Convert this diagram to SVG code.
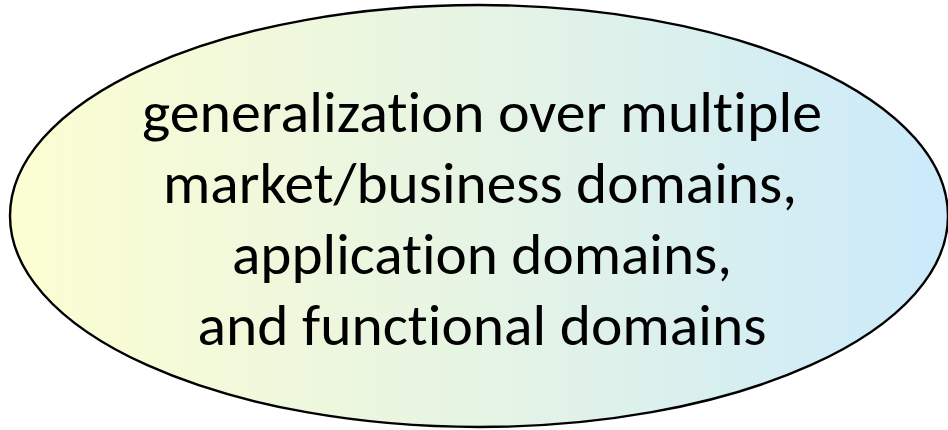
<svg xmlns="http://www.w3.org/2000/svg" width="948" height="430" viewBox="0 0 948 430">
  <defs>
    <linearGradient id="fill" x1="0" y1="0" x2="1" y2="0">
      <stop offset="0" stop-color="#FCFED2"/>
      <stop offset="0.5" stop-color="#E6F4E4"/>
      <stop offset="1" stop-color="#CBEAFB"/>
    </linearGradient>
  </defs>
  <style>
    .shape { fill: url(#fill); stroke: #000; stroke-width: 2.4; }
    .label { font-family: Carlito, "Liberation Sans", Arial, sans-serif; font-size: 58px; fill: #000; text-anchor: middle; font-variant-ligatures: none; }
  </style>
  <rect width="948" height="430" fill="#FFFFFF"/>
  <g id="node-generalization">
    <ellipse class="shape" cx="479" cy="216" rx="469" ry="211"/>
    <text class="label" x="482" y="132" textLength="680" lengthAdjust="spacingAndGlyphs">generalization over multiple</text>
    <text class="label" x="480" y="203" textLength="634" lengthAdjust="spacingAndGlyphs">market/business domains,</text>
    <text class="label" x="482" y="274" textLength="500" lengthAdjust="spacingAndGlyphs">application domains,</text>
    <text class="label" x="482" y="345" textLength="569" lengthAdjust="spacingAndGlyphs">and functional domains</text>
  </g>
  <g id="connectors"></g>
</svg>
